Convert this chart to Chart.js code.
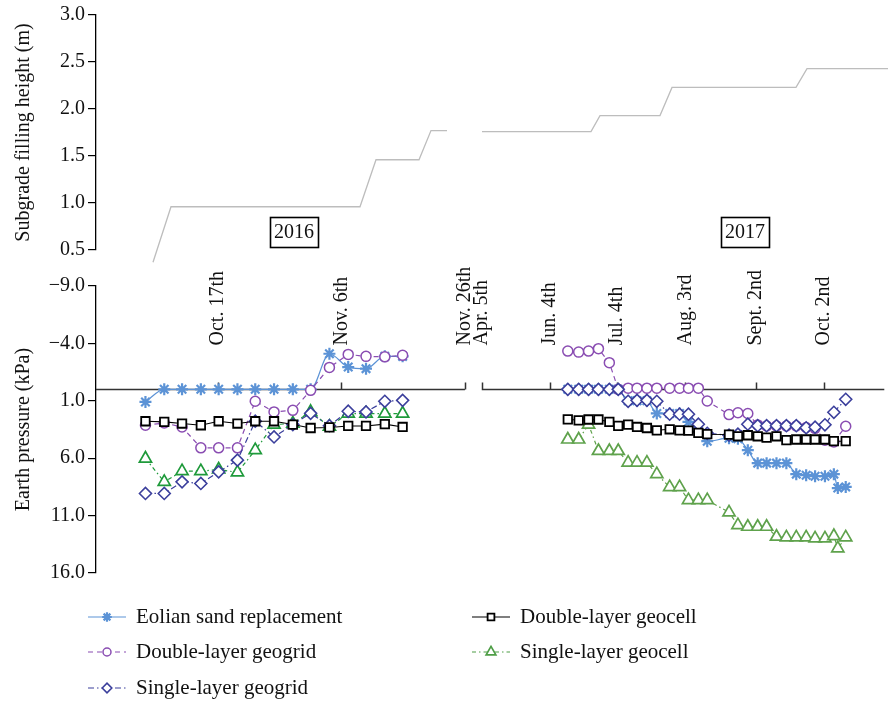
<!DOCTYPE html>
<html>
<head>
<meta charset="utf-8">
<title>Subgrade filling height and earth pressure</title>
<script src="https://cdn.jsdelivr.net/npm/chart.js@4.4.1/dist/chart.umd.min.js"></script>
<style>
  body { margin: 0; background: #fff; }
  #wrap { position: relative; width: 893px; height: 704px; overflow: hidden; }
  canvas { position: absolute; left: 0; }
  #heightChart { top: 0; }
  #pressureChart { top: 262px; }
</style>
</head>
<body>
<div id="wrap">
  <canvas id="heightChart" width="893" height="280"></canvas>
  <canvas id="pressureChart" width="893" height="442"></canvas>
</div>
<script>
// positions along the broken time axis (axis units, not dates)
const xs2016 = [50, 69, 87, 106, 124, 143, 161, 180, 199, 217, 236, 255, 273, 292, 310]
const xs2017 = [477, 488, 498, 508, 519, 528, 538, 547, 557, 567, 580, 590, 599, 609, 618,
                640, 649, 659, 669, 678, 688, 698, 708, 718, 727, 737, 746, 750, 758]
const axisBreak = [373, 390]
const tickPos = [123, 248, 373, 390, 459, 527, 596, 667, 736]
const tickLabels = ['Oct. 17th', 'Nov. 6th', 'Nov. 26th', 'Apr. 5th', 'Jun. 4th',
                    'Jul. 4th', 'Aug. 3rd', 'Sept. 2nd', 'Oct. 2nd']

// subgrade filling height (m)
const fillX2016 = [57, 75, 264, 280, 323, 335, 351]
const fillH2016 = [0.37, 0.96, 0.96, 1.46, 1.46, 1.77, 1.77]
const fillX2017 = [386, 495, 504, 564, 576, 700, 711, 792]
const fillH2017 = [1.76, 1.76, 1.93, 1.93, 2.23, 2.23, 2.43, 2.43]
const yearLabels = ['2016', '2017']
const yearLabelX = [198, 649]
const yearLabelY = 0.69

// earth pressure (kPa), null = no reading
const eolian2016   = [1.1, 0, 0, 0, 0, 0, 0, 0, 0, 0, -3.1, -1.94, -1.8, -2.87, -2.87]
const eolian2017   = [0, 0, 0, 0, 0, 0, 1.0, 1.0, 1.0, 2.1, 2.1, 2.1, 2.84, 3.7, 4.52,
                      4.26, 4.3, 5.3, 6.43, 6.43, 6.43, 6.43, 7.39, 7.48, 7.57, 7.57, 7.39, 8.6, 8.5]
const geogrid2_2016 = [3.13, 2.93, 3.28, 5.1, 5.1, 5.1, 1.04, 1.97, 1.83, 0.09, -1.91, -3.04, -2.87, -2.83, -2.96]
const geogrid2_2017 = [-3.33, -3.24, -3.33, -3.54, -2.32, 0, -0.1, -0.1, -0.1, -0.1, -0.1, -0.1, -0.1, -0.1, 1.02,
                       2.2, 2.04, 2.11, 3.1, 3.2, 3.2, 3.2, 3.2, 3.33, 3.4, 4.43, 4.58, null, 3.22]
const geogrid1_2016 = [9.07, 9.07, 8.06, 8.2, 7.19, 6.17, 2.78, 4.15, 3.07, 2.09, 3.17, 1.91, 1.97, 1.04, 0.96]
const geogrid1_2017 = [0, 0, 0, 0, 0, 0, 1.04, 0.96, 0.96, 1.04, 2.17, 2.17, 2.17, 3.04, 3.83,
                       4.0, 3.9, 3.04, 3.17, 3.17, 3.17, 3.17, 3.17, 3.35, 3.3, 3.09, 2.0, null, 0.87]
const geocell2_2016 = [2.78, 2.84, 2.98, 3.13, 2.78, 2.98, 2.78, 2.78, 3.07, 3.37, 3.32, 3.19, 3.19, 3.03, 3.28]
const geocell2_2017 = [2.61, 2.7, 2.63, 2.63, 2.84, 3.19, 3.07, 3.28, 3.37, 3.57, 3.48, 3.57, 3.6, 3.8, 3.91,
                       3.94, 4.09, 4.0, 4.09, 4.2, 4.09, 4.43, 4.37, 4.37, 4.37, 4.37, 4.52, null, 4.52]
const geocell1_2016 = [6.03, 8.06, 7.13, 7.13, 6.98, 7.24, 5.3, 3.07, 2.98, 1.96, 3.26, 2.11, 2.11, 2.11, 2.11]
const geocell1_2017 = [4.37, 4.37, 3.07, 5.37, 5.37, 5.37, 6.39, 6.39, 6.39, 7.39, 8.52, 8.52, 9.65, 9.65, 9.65,
                       10.72, 11.83, 11.97, 11.97, 11.97, 12.84, 12.9, 12.9, 12.9, 12.98, 12.98, 12.78, 13.85, 12.9]
const pressureTicks = [-9, -4, 1, 6, 11, 16]

const serif = "'Liberation Serif', 'DejaVu Serif', serif"
Chart.defaults.font.family = serif
Chart.defaults.font.size = 20
Chart.defaults.color = '#111'

const green2016 = '#1f9a3b'
const green2017 = '#5fa24c'

// two years joined, with a null point so the line breaks at the axis gap
function joinYears(xa, va, xb, vb){
    const pts = []
    xa.forEach((x, i) => { if (va[i] !== null) pts.push({x: x, y: va[i]}) })
    pts.push({x: (axisBreak[0] + axisBreak[1]) / 2, y: null})
    xb.forEach((x, i) => { if (vb[i] !== null) pts.push({x: x, y: vb[i]}) })
    return pts
}

function yAxis(title){
    return {
        afterFit: function(scale){ scale.width = 96 },
        border: {display: true, color: '#000', width: 1.3},
        grid: {drawOnChartArea: false, drawTicks: true, tickLength: 8, color: '#000', lineWidth: 1.2},
        ticks: {color: '#111', padding: 3},
        title: {display: true, text: title, color: '#111', padding: {top: 12, bottom: 0}}
    }
}

const yearBoxes = {
    id: 'yearBoxes',
    afterDatasetsDraw(chart){
        const {ctx, scales: {x, y}} = chart
        ctx.save()
        ctx.font = '20px ' + serif
        ctx.textAlign = 'center'
        ctx.textBaseline = 'middle'
        yearLabels.forEach((t, i) => {
            const cx = x.getPixelForValue(yearLabelX[i])
            const cy = y.getPixelForValue(yearLabelY)
            ctx.strokeStyle = '#000'
            ctx.lineWidth = 1.6
            ctx.strokeRect(Math.round(cx - 24) + 0.5, Math.round(cy - 15) + 0.5, 48, 30)
            ctx.fillStyle = '#111'
            ctx.fillText(t, cx, cy + 1)
        })
        ctx.restore()
    }
}

new Chart(document.getElementById('heightChart'), {
    type: 'line',
    data: {
        datasets: [{
            data: joinYears(fillX2016, fillH2016, fillX2017, fillH2017),
            borderColor: '#bdbdbd',
            borderWidth: 1.3,
            pointRadius: 0,
            clip: false
        }]
    },
    options: {
        responsive: false,
        animation: false,
        events: [],
        layout: {padding: {top: 14, bottom: 30, left: 0, right: 0}},
        plugins: {legend: {display: false}, tooltip: {enabled: false}},
        scales: {
            x: {type: 'linear', display: false, min: 0, max: 797},
            y: Object.assign(yAxis('Subgrade filling height (m)'), {
                min: 0.5, max: 3.0,
                ticks: {color: '#111', padding: 3, stepSize: 0.5, callback: v => v.toFixed(1)}
            })
        }
    },
    plugins: [yearBoxes]
})

const timeAxis = {
    id: 'timeAxis',
    beforeDatasetsDraw(chart){
        const {ctx, scales: {x, y}, chartArea} = chart
        const y0 = Math.round(y.getPixelForValue(0)) + 0.5
        ctx.save()
        ctx.strokeStyle = '#333'
        ctx.lineWidth = 1.5
        ctx.beginPath()
        ctx.moveTo(chartArea.left, y0)
        ctx.lineTo(x.getPixelForValue(axisBreak[0]), y0)
        ctx.moveTo(x.getPixelForValue(axisBreak[1]), y0)
        ctx.lineTo(chartArea.right, y0)
        tickPos.forEach(p => {
            const px = Math.round(x.getPixelForValue(p)) + 0.5
            ctx.moveTo(px, y0)
            ctx.lineTo(px, y0 - 7)
        })
        ctx.stroke()
        ctx.fillStyle = '#111'
        ctx.font = '20px ' + serif
        ctx.textAlign = 'left'
        ctx.textBaseline = 'middle'
        tickPos.forEach((p, i) => {
            ctx.save()
            ctx.translate(x.getPixelForValue(p), y0 - 44)
            ctx.rotate(-Math.PI / 2)
            ctx.fillText(tickLabels[i], 0, 0)
            ctx.restore()
        })
        ctx.restore()
    }
}

// legend: two columns, drawn from the datasets' own styles
const sideLegend = {
    id: 'sideLegend',
    afterDraw(chart){
        const ctx = chart.ctx
        const cols = [88, 472]
        const rows = [355, 390, 426]
        const slots = [[0, 0], [0, 1], [0, 2], [1, 0], [1, 1]]
        ctx.save()
        chart.data.datasets.forEach((ds, k) => {
            const x0 = cols[slots[k][0]]
            const yy = rows[slots[k][1]]
            const col = ds.legendColor || ds.borderColor
            ctx.strokeStyle = col
            ctx.lineWidth = 1.2
            ctx.setLineDash(ds.borderDash || [])
            ctx.beginPath()
            ctx.moveTo(x0, yy)
            ctx.lineTo(x0 + 38, yy)
            ctx.stroke()
            ctx.setLineDash([])
            ctx.fillStyle = '#fff'
            ctx.lineWidth = ds.pointBorderWidth
            Chart.helpers.drawPoint(ctx, {
                pointStyle: ds.pointStyle, radius: ds.pointRadius * 0.8,
                rotation: 0, borderWidth: ds.pointBorderWidth
            }, x0 + 19, yy)
            ctx.fillStyle = '#111'
            ctx.font = '21px ' + serif
            ctx.textAlign = 'left'
            ctx.textBaseline = 'middle'
            ctx.fillText(ds.label, x0 + 48, yy)
        })
        ctx.restore()
    }
}

new Chart(document.getElementById('pressureChart'), {
    type: 'line',
    data: {
        datasets: [
            {
                label: 'Eolian sand replacement',
                data: joinYears(xs2016, eolian2016, xs2017, eolian2017),
                borderColor: '#5c93d6', backgroundColor: '#5c93d6',
                borderWidth: 1.2, cubicInterpolationMode: 'monotone',
                pointStyle: 'star', pointRadius: 6, pointBorderWidth: 2.2,
                pointBorderColor: '#5c93d6', order: 5
            },
            {
                label: 'Double-layer geogrid',
                data: joinYears(xs2016, geogrid2_2016, xs2017, geogrid2_2017),
                borderColor: '#8a4db2', borderWidth: 1.2, borderDash: [5, 4],
                pointStyle: 'circle', pointRadius: 5, pointBorderWidth: 1.5,
                pointBackgroundColor: '#fff', pointBorderColor: '#8a4db2', order: 3
            },
            {
                label: 'Single-layer geogrid',
                data: joinYears(xs2016, geogrid1_2016, xs2017, geogrid1_2017),
                borderColor: '#3b3f9c', borderWidth: 1.2, borderDash: [6, 3, 1.5, 3],
                pointStyle: 'rectRot', pointRadius: 6, pointBorderWidth: 1.6,
                pointBackgroundColor: '#fff', pointBorderColor: '#3b3f9c', order: 2
            },
            {
                label: 'Double-layer geocell',
                data: joinYears(xs2016, geocell2_2016, xs2017, geocell2_2017),
                borderColor: '#000', borderWidth: 1.1,
                pointStyle: 'rect', pointRadius: 6, pointBorderWidth: 1.8,
                pointBackgroundColor: '#fff', pointBorderColor: '#000', order: 1
            },
            {
                label: 'Single-layer geocell',
                data: joinYears(xs2016, geocell1_2016, xs2017, geocell1_2017),
                borderColor: green2016, legendColor: '#4e9e46', borderWidth: 1.2,
                borderDash: [4, 3, 1.5, 3],
                segment: {borderColor: c => c.p0.parsed.x > axisBreak[0] ? green2017 : green2016},
                pointStyle: 'triangle', pointRadius: 7, pointBorderWidth: 1.7,
                pointBackgroundColor: '#fff',
                pointBorderColor: c => (c.raw && c.raw.x > axisBreak[0]) ? green2017 : green2016,
                order: 4
            }
        ]
    },
    options: {
        responsive: false,
        animation: false,
        events: [],
        layout: {padding: {top: 24, bottom: 131, left: 0, right: 0}},
        plugins: {legend: {display: false}, tooltip: {enabled: false}},
        scales: {
            x: {type: 'linear', display: false, min: 0, max: 797},
            y: Object.assign(yAxis('Earth pressure (kPa)'), {
                reverse: true, min: -9, max: 16,
                afterBuildTicks: function(scale){ scale.ticks = pressureTicks.map(v => ({value: v})) },
                ticks: {color: '#111', padding: 3,
                        callback: v => (v < 0 ? '\u2212' + Math.abs(v).toFixed(1) : v.toFixed(1))}
            })
        }
    },
    plugins: [timeAxis, sideLegend]
})
</script>
</body>
</html>
